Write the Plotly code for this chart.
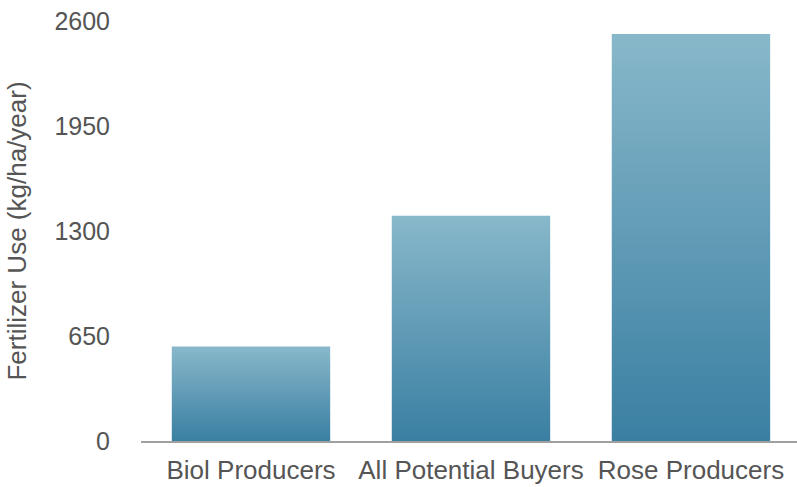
import plotly.graph_objects as go

# Fertilizer use by group
categories = ["Biol Producers", "All Potential Buyers", "Rose Producers"]
fertilizer_use = [585, 1395, 2520]
y_ticks = [0, 650, 1300, 1950, 2600]

BAR_HALF_WIDTH = 0.36
COLOR_TOP = "#88b8ca"
COLOR_BOTTOM = "#3a7fa2"
TEXT_COLOR = "#555555"
FONT = "Liberation Sans, Arial, Helvetica, sans-serif"

fig = go.Figure()

# Each bar is a filled rectangle with a vertical gradient (dark at the base, light at the top)
for i, (name, value) in enumerate(zip(categories, fertilizer_use)):
    x0, x1 = i - BAR_HALF_WIDTH, i + BAR_HALF_WIDTH
    fig.add_trace(go.Scatter(
        x=[x0, x1, x1, x0, x0],
        y=[0, 0, value, value, 0],
        mode="lines",
        line=dict(width=0, color=COLOR_BOTTOM),
        fill="toself",
        fillgradient=dict(
            type="vertical",
            colorscale=[[0, COLOR_BOTTOM], [1, COLOR_TOP]],
        ),
        name=name,
        hovertemplate=f"{name}: {value}<extra></extra>",
        showlegend=False,
    ))

fig.update_layout(
    width=797,
    height=487,
    margin=dict(l=141, r=0, t=21, b=46),
    paper_bgcolor="white",
    plot_bgcolor="white",
    font=dict(family=FONT, color=TEXT_COLOR, size=26),
    xaxis=dict(
        range=[-0.5, 2.482],
        tickmode="array",
        tickvals=list(range(len(categories))),
        ticktext=categories,
        showgrid=False,
        zeroline=False,
        showline=True,
        linecolor="#a0a0a0",
        linewidth=1.5,
        ticks="",
        ticklabelstandoff=5,
        tickfont=dict(size=26, color=TEXT_COLOR),
        fixedrange=True,
    ),
    yaxis=dict(
        range=[0, 2600],
        tickmode="array",
        tickvals=y_ticks,
        ticktext=[str(t) for t in y_ticks],
        showgrid=False,
        zeroline=False,
        showline=False,
        ticks="",
        ticklabelstandoff=30,
        tickfont=dict(size=25, color=TEXT_COLOR),
        title=dict(
            text="Fertilizer Use (kg/ha/year)",
            font=dict(size=26, color=TEXT_COLOR),
            standoff=20,
        ),
        fixedrange=True,
    ),
)

fig.write_html("out.html")
